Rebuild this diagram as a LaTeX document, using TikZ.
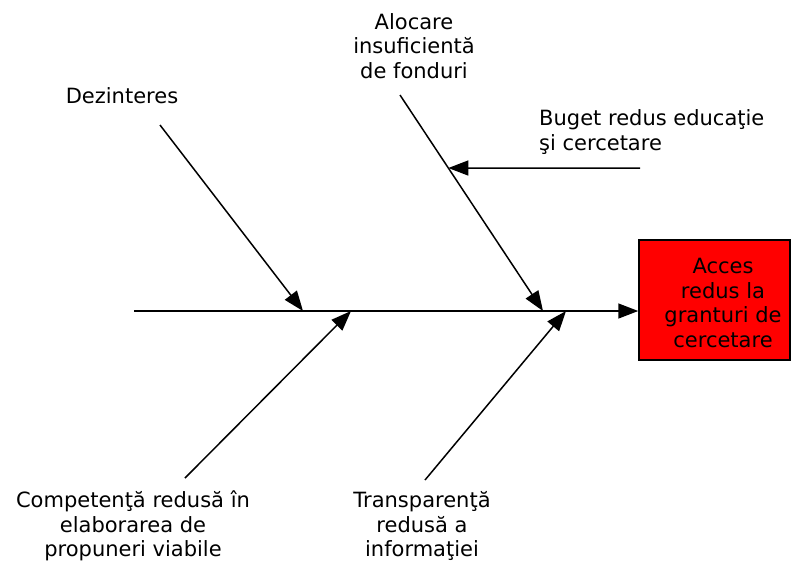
\documentclass[tikz,border=0pt]{standalone}
\usepackage{fontspec}
\setmainfont{DejaVu Sans}
\usetikzlibrary{arrows.meta,positioning,calc}
\tikzset{
  >={Triangle[length=20pt,width=15pt]},
  bone/.style={line width=1.5pt,->},
  lbl/.style={align=center,inner sep=0pt,font=\fontsize{21}{24.5}\selectfont},
  goalbox/.style={draw=black,line width=1.5pt,fill=red,minimum width=151pt,minimum height=120pt,inner sep=0pt},
}
\newcommand{\Bone}[2]% from, to
{\draw[bone] (#1) -- (#2);}

\begin{document}
\begin{tikzpicture}[x=1pt,y=-1pt]
  \useasboundingbox (0,0) rectangle (791,566);
  % effect
  \node[goalbox] (goal) at (714.5,300) {};
  \node[lbl] (goaltext) at (723,303) {Acces\\redus la\\granturi de\\cercetare};
  % causes
  \node[lbl] (dez) at (122,96) {Dezinteres};
  \node[lbl] (aloc) at (414,46) {Alocare\\insuficientă\\de fonduri};
  \node[lbl,align=left,anchor=west] (buget) at (539,132) {Buget redus educaţie\\şi cercetare};
  \node[lbl] (comp) at (133,526) {Competenţă redusă în\\elaborarea de\\propuneri viabile};
  \node[lbl] (transp) at (422,526) {Transparenţă\\redusă a\\informaţiei};
  % bone ends
  \coordinate (spine) at (134,311);
  \coordinate (d1) at (160,125);  \coordinate (d2) at (303,311);
  \coordinate (a1) at (400,95);   \coordinate (a2) at (543,311);
  \coordinate (c1) at (185,478);  \coordinate (c2) at (351,311);
  \coordinate (t1) at (425,480);  \coordinate (t2) at (566,311);
  \coordinate (b1) at (640,168);  \coordinate (b2) at ($(a1)!0.338!(a2)$);
  \draw[bone] (spine) -- (spine -| goal.west);
  \Bone{d1}{d2}
  \Bone{a1}{a2}
  \Bone{c1}{c2}
  \Bone{t1}{t2}
  \Bone{b1}{b2}
\end{tikzpicture}
\end{document}
